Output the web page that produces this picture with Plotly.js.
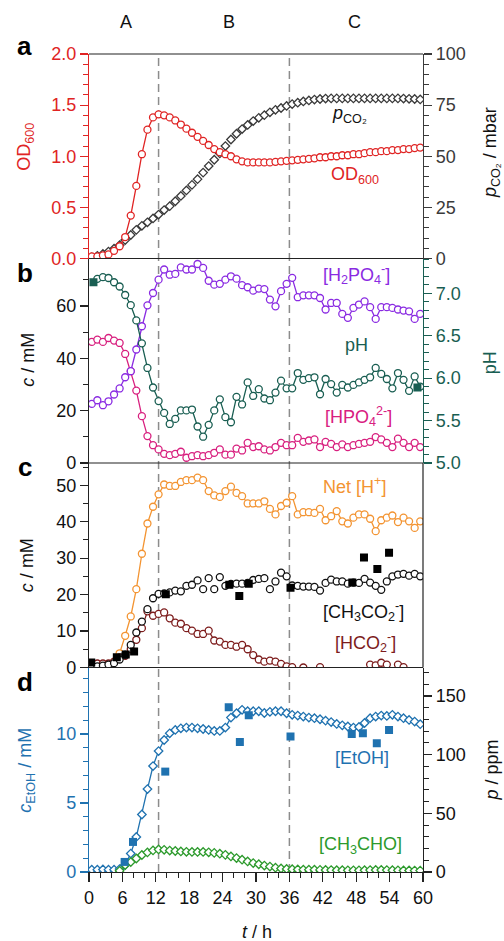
<!DOCTYPE html>
<html>
<head>
<meta charset="utf-8">
<script src="https://cdn.plot.ly/plotly-3.0.1.min.js"></script>
<style>html,body{margin:0;padding:0;background:#fff;}#chart{width:504px;height:941px;}</style>
</head>
<body>
<div id="chart"></div>
<script>
// time points (h)
const tHour = [0.5,1.5,2.5,3.5,4.5,5.5,6.5,7.5,8.5,9.5,
  10.5,11.5,12.5,13.5,14.5,15.5,16.5,17.5,18.5,19.5,
  20.5,21.5,22.5,23.5,24.5,25.5,26.5,27.5,28.5,29.5,
  30.5,31.5,32.5,33.5,34.5,35.5,36.5,37.5,38.5,39.5,
  40.5,41.5,42.5,43.5,44.5,45.5,46.5,47.5,48.5,49.5,
  50.5,51.5,52.5,53.5,54.5,55.5,56.5,57.5,58.5,59.5];

// panel a
const od600 = [0.02,0.02,0.03,0.04,0.075,0.12,0.21,0.42,0.71,1.02,
  1.26,1.38,1.41,1.40,1.38,1.35,1.31,1.27,1.23,1.19,
  1.15,1.11,1.07,1.04,1.02,1.00,0.97,0.95,0.94,0.94,
  0.94,0.94,0.94,0.945,0.95,0.955,0.96,0.965,0.97,0.975,
  0.98,0.99,0.99,1.00,1.00,1.01,1.01,1.02,1.02,1.03,
  1.04,1.04,1.05,1.05,1.06,1.06,1.07,1.07,1.08,1.085];
const pCO2 = [0.5,1.3,2.2,3.4,4.8,6.5,9.0,11.5,14,16,
  17.7,19.6,21.5,23.7,25.6,28,30.6,33.3,36,38.8,
  42,45.2,48.3,51.4,55,58.2,61,63.3,65.3,67.2,
  68.8,70.1,71.5,72.7,73.6,74.6,75.5,76.2,76.8,77.3,
  77.7,78,78.2,78.3,78.3,78.3,78.3,78.3,78.3,78.3,
  78.3,78.3,78.3,78.3,78.3,78.3,78.2,78.1,78,77.8];

// panel b
const h2po4 = [22.6,24,22.1,23.6,26.2,28.5,32.8,35.1,43.4,52.3,
  60.3,65,70.1,74,72,72.3,74.8,74,74,76.1,
  74.6,69.7,68.2,68.5,70.1,71.4,70.5,68,67.2,65.9,
  66.7,66.5,62.5,59.9,65.7,68.5,70.8,63.4,64.1,64.1,
  64.1,63.1,58.7,61.2,61.2,57,55.5,59.3,60.6,61.8,
  59.6,55.1,59.6,59.6,59.3,58.7,58.3,58,55.1,57];
const hpo4 = [46.3,47.2,46.3,47.8,46.8,45.9,41.7,35.1,27.7,17.9,
  10.3,6.8,5.2,3.5,3.0,3.5,4.3,2.0,2.6,3.0,
  2.6,3.0,3.9,5.2,3.2,3.2,5.5,4.8,7.7,6.1,
  6.4,5.2,4.8,6.1,7.7,6.8,6.8,9.6,8.1,8.6,
  9.0,6.1,8.1,7.3,6.1,7.1,6.1,6.8,7.3,7.7,
  8.1,9.9,9.0,7.7,6.1,9.3,7.7,6.1,7.7,6.1];
const pH = [null,7.17,7.19,7.18,7.13,7.08,6.98,6.86,6.68,6.41,
  6.12,5.89,5.73,5.59,5.46,5.52,5.62,5.62,5.63,5.43,
  5.31,5.45,5.62,5.75,5.54,5.48,5.78,5.69,5.95,5.79,
  5.87,5.76,5.74,5.83,5.97,5.88,5.88,6.06,5.98,6.00,
  6.01,5.81,5.99,5.93,5.83,5.92,5.89,5.92,5.95,5.98,
  6.01,6.12,6.05,5.99,5.88,6.06,5.98,5.85,6.02,5.90];
const pHMeasT = [0.8, 59.0];
const pHMeas = [7.13, 5.89];

// panel c
const netH = [0.3,0.4,0.5,0.8,1.5,3.9,8.7,14.0,21.5,31.2,
  39.5,44.1,47.5,50.2,49.8,49.8,50.9,51.4,51.4,52.1,
  51.4,48.4,47.2,46.8,48.4,49.6,47.9,47.0,45.0,45.0,
  45.0,45.6,43.5,42.0,44.3,45.2,47.0,42.0,42.6,42.6,
  42.4,43.5,40.4,41.5,42.9,40.1,39.5,41.1,42.0,42.0,
  40.8,37.4,40.4,41.1,41.7,39.9,41.1,40.1,38.3,40.1];
const acetate = [0.3,0.3,0.5,0.8,1.2,2.2,3.5,6.2,9.6,12.6,
  16.0,19.0,20.2,20.3,20.6,21.1,20.9,22.4,22.7,23.9,
  21.5,24.5,21.5,24.8,22.4,22.9,23.0,23.0,23.2,24.0,
  24.3,24.5,21.5,23.6,26.0,25.0,22.5,22.4,22.2,22.2,
  22.1,21.1,23.2,24.1,23.6,23.6,23.0,23.3,23.2,24.3,
  23.3,22.4,21.3,23.6,25.0,25.5,25.7,25.2,25.7,25.0];
const acetateMeasT = [0.4,5.0,6.6,8.1,13.8,25.2,27.0,28.7,36.2,47.3,49.4,51.8,53.9];
const acetateMeas = [1.4,2.8,3.6,4.4,20.1,22.7,19.6,23.0,21.9,23.3,30.2,27.0,31.5];
const formate = [1.0,1.1,1.1,1.1,1.6,2.8,3.2,5.0,7.6,10.8,
  15.4,14.2,14.7,15.1,13.5,12.3,12.0,10.8,10.1,9.2,
  9.2,10.1,7.4,7.1,6.2,6.2,5.7,6.2,5.0,3.4,
  2.2,1.6,1.9,1.6,1.0,0.3,0.1,null,0.0,null,
  null,0.1,null,null,null,null,null,null,null,null,
  0.8,0.6,1.3,0.8,null,0.8,0.1,null,null,null];

// panel d
const etohGas = [2,2,2.2,2,2,2.5,6,15.7,29.9,49,
  70.7,90.3,103.1,112.5,118.2,121.1,122.5,123.1,123.1,122.5,
  121.9,121.1,120.2,120.2,123.1,131.6,135.3,138.2,137,137,
  137,135.5,136.5,137,137,135.3,134,133.3,132.5,131.6,
  131.1,130.2,129,127.8,126.2,125,124,123.1,123.6,127,
  131.1,132.5,133.3,133,134,132.5,131.1,129.6,128.2,126];
const acetaldehyde = [null,null,null,null,null,1.0,5.9,8.5,11.5,14.5,
  16.7,18.4,19.2,18.9,18.3,17.9,17.5,17.2,17.1,17.1,
  17.1,16.8,16.3,15.6,14.6,13.3,11.9,10.5,9.0,7.6,
  6.6,5.5,4.6,3.7,3.0,2.6,2.4,2.2,2.0,2.0,
  1.9,1.8,1.7,1.6,1.5,1.5,1.4,1.4,1.4,1.5,
  1.6,1.7,1.7,1.6,1.5,1.4,1.3,1.3,1.2,1.2];
const etohMeasT = [6.4,7.9,13.7,25.1,27.1,28.7,36.2,47.2,49.2,51.7,53.9];
const etohMeas = [0.73,2.18,7.28,11.94,9.42,11.36,9.83,10.0,10.07,9.34,10.3];

// x ticks and phase boundaries
const xTicks = [0,6,12,18,24,30,36,42,48,54,60];
const phaseBounds = [12.5, 36];
const phaseLabels = ['A','B','C'];
const phaseLabelX = [6.6, 25.1, 47.7];

const RED = '#e02424', PURPLE = '#8a2be2', TEAL = '#195e52', MAG = '#d8207f',
      ORANGE = '#f39432', BROWN = '#7d1c1c', BLUE = '#1f72b0', GREEN = '#2c9a2c', GRAY = '#3a3a3a';
const FONT = 'Arial, "Liberation Sans", sans-serif';

function openMk(color, sym, size) {
  return {symbol: sym, size: size, color: 'white', line: {color: color, width: 1.3}};
}
const traces = [
  // panel a
  {x: tHour, y: pCO2, xaxis: 'x', yaxis: 'y', mode: 'markers', marker: openMk(GRAY, 'diamond', 6.5)},
  {x: tHour, y: od600, xaxis: 'x', yaxis: 'y2', mode: 'lines+markers', line: {color: RED, width: 1.3}, marker: openMk(RED, 'circle', 7)},
  // panel b
  {x: tHour, y: hpo4, xaxis: 'x', yaxis: 'y3', mode: 'lines+markers', line: {color: MAG, width: 1.3}, marker: openMk(MAG, 'circle', 7)},
  {x: tHour, y: h2po4, xaxis: 'x', yaxis: 'y3', mode: 'lines+markers', line: {color: PURPLE, width: 1.3}, marker: openMk(PURPLE, 'circle', 7)},
  {x: tHour, y: pH, xaxis: 'x', yaxis: 'y4', mode: 'lines+markers', line: {color: TEAL, width: 1.3}, marker: openMk(TEAL, 'circle', 7)},
  {x: pHMeasT, y: pHMeas, xaxis: 'x', yaxis: 'y4', mode: 'markers', marker: {symbol: 'square', size: 8, color: TEAL}},
  // panel c
  {x: tHour, y: netH, xaxis: 'x', yaxis: 'y5', mode: 'lines+markers', line: {color: ORANGE, width: 1.3}, marker: openMk(ORANGE, 'circle', 7)},
  {x: tHour, y: formate, xaxis: 'x', yaxis: 'y5', mode: 'lines+markers', line: {color: BROWN, width: 1.3}, marker: openMk(BROWN, 'circle', 7)},
  {x: tHour, y: acetate, xaxis: 'x', yaxis: 'y5', mode: 'markers', marker: openMk('#111', 'circle', 7)},
  {x: acetateMeasT, y: acetateMeas, xaxis: 'x', yaxis: 'y5', mode: 'markers', marker: {symbol: 'square', size: 8, color: '#000'}},
  // panel d
  {x: tHour, y: etohGas, xaxis: 'x', yaxis: 'y6', mode: 'lines+markers', line: {color: BLUE, width: 1.3}, marker: openMk(BLUE, 'diamond', 6.5)},
  {x: tHour, y: acetaldehyde, xaxis: 'x', yaxis: 'y6', mode: 'lines+markers', line: {color: GREEN, width: 1.3}, marker: openMk(GREEN, 'diamond', 6.5)},
  {x: etohMeasT, y: etohMeas, xaxis: 'x', yaxis: 'y7', mode: 'markers', marker: {symbol: 'square', size: 8, color: BLUE}}
];

function yax(opts, color) {
  const base = {
    showline: true, linecolor: color, linewidth: 1.2, ticks: 'outside', ticklen: 8, tickwidth: 1.2,
    tickcolor: color, tickfont: {family: FONT, size: 18, color: color}, showgrid: false, zeroline: false,
    fixedrange: true, automargin: false,
    minor: {ticks: 'outside', ticklen: 5, tickwidth: 1, tickcolor: color, showgrid: false}
  };
  const o = Object.assign(base, opts);
  if (opts.minorDtick) { o.minor.dtick = opts.minorDtick; delete o.minorDtick; }
  return o;
}

const shapes = [];
phaseBounds.forEach(b => shapes.push({type: 'line', xref: 'x', yref: 'paper', x0: b, x1: b, y0: 0, y1: 1,
  line: {color: '#8c8c8c', width: 1.5, dash: '8px,5px'}, layer: 'below'}));
[1, 0.75, 0.5, 0.25].forEach(y => shapes.push({type: 'line', xref: 'paper', yref: 'paper', x0: 0, x1: 1, y0: y, y1: y,
  line: {color: '#222', width: 1.2}, layer: 'above'}));
shapes.push({type: 'line', xref: 'paper', yref: 'paper', x0: 1, x1: 1, y0: 0.25, y1: 0.5, line: {color: '#222', width: 1.2}, layer: 'above'});

function ann(text, x, y, color, opts) {
  return Object.assign({text: text, x: x, y: y, xref: 'x', yref: 'paper', showarrow: false,
    xanchor: 'center', yanchor: 'middle', font: {family: FONT, size: 18, color: color}}, opts || {});
}
const annotations = [];
phaseLabels.forEach((s, i) => annotations.push(ann(s, phaseLabelX[i], 1.039, '#111')));
[['a', 1.010], ['b', 0.732], ['c', 0.495], ['d', 0.232]].forEach(p => annotations.push(
  {text: '<b>' + p[0] + '</b>', x: -0.193, y: p[1], xref: 'paper', yref: 'paper', showarrow: false,
   xanchor: 'center', yanchor: 'middle', font: {family: FONT, size: 26, color: '#000'}}));
// curve labels
annotations.push(ann('<i>p</i><sub>CO₂</sub>', 46.8, 0.926, '#111'));
annotations.push(ann('OD<sub>600</sub>', 47.7, 0.852, RED));
annotations.push(ann('[H<sub>2</sub>PO<sub>4</sub><sup>-</sup>]', 48.1, 0.730, PURPLE));
annotations.push(ann('pH', 48.1, 0.644, TEAL));
annotations.push(ann('[HPO<sub>4</sub><sup>2-</sup>]', 48.5, 0.557, MAG));
annotations.push(ann('Net [H<sup>+</sup>]', 47.7, 0.472, ORANGE));
annotations.push(ann('[CH<sub>3</sub>CO<sub>2</sub><sup>-</sup>]', 49.4, 0.318, '#111'));
annotations.push(ann('[HCO<sub>2</sub><sup>-</sup>]', 49.7, 0.281, BROWN));
annotations.push(ann('[EtOH]', 49.0, 0.139, BLUE));
annotations.push(ann('[CH<sub>3</sub>CHO]', 48.8, 0.032, GREEN));
// axis titles
function atitle(text, x, y, color) {
  return {text: text, x: x, y: y, xref: 'paper', yref: 'paper', showarrow: false, textangle: -90,
    xanchor: 'center', yanchor: 'middle', font: {family: FONT, size: 18, color: color}};
}
annotations.push(atitle('OD<sub>600</sub>', -0.19, 0.886, RED));
annotations.push(atitle('<i>p</i><sub>CO₂</sub> / mbar', 1.207, 0.879, '#111'));
annotations.push(atitle('<i>c</i> / mM', -0.183, 0.626, '#111'));
annotations.push(atitle('pH', 1.203, 0.623, TEAL));
annotations.push(atitle('<i>c</i> / mM', -0.186, 0.375, '#111'));
annotations.push(atitle('<i>c</i><sub>EtOH</sub> / mM', -0.186, 0.125, BLUE));
annotations.push(atitle('<i>p</i> / ppm', 1.206, 0.125, '#111'));
annotations.push({text: '<i>t</i> / h', x: 0.502, y: -0.073, xref: 'paper', yref: 'paper', showarrow: false,
  xanchor: 'center', yanchor: 'middle', font: {family: FONT, size: 18, color: '#111'}});

const layout = {
  width: 504, height: 941,
  margin: {l: 89, r: 81, t: 54, b: 69, pad: 0},
  paper_bgcolor: '#fff', plot_bgcolor: 'rgba(0,0,0,0)',
  showlegend: false,
  font: {family: FONT, size: 18, color: '#111'},
  xaxis: {domain: [0, 1], range: [0, 60], anchor: 'y6', tickvals: xTicks, showline: true, linecolor: '#222',
    linewidth: 1.2, ticks: 'outside', ticklen: 9, tickwidth: 1.2, tickcolor: '#222',
    tickfont: {family: FONT, size: 18, color: '#111'}, showgrid: false, zeroline: false, fixedrange: true,
    minor: {dtick: 2, ticks: 'outside', ticklen: 5, tickwidth: 1, tickcolor: '#222', showgrid: false}},
  yaxis: yax({domain: [0.75, 1], range: [0, 100], anchor: 'x', side: 'right', dtick: 25, minorDtick: 5}, GRAY),
  yaxis2: yax({overlaying: 'y', range: [0, 2], anchor: 'x', side: 'left', dtick: 0.5, tickformat: '.1f', minorDtick: 0.1}, RED),
  yaxis3: yax({domain: [0.5, 0.75], range: [0, 78.2], anchor: 'x', side: 'left', dtick: 20, minorDtick: 10}, '#222'),
  yaxis4: yax({overlaying: 'y3', range: [5, 7.41], anchor: 'x', side: 'right', dtick: 0.5, tickformat: '.1f', minorDtick: 0.1}, TEAL),
  yaxis5: yax({domain: [0.25, 0.5], range: [0, 56.1], anchor: 'x', side: 'left', dtick: 10, minorDtick: 5}, '#222'),
  yaxis6: yax({domain: [0, 0.25], range: [0, 174.3], anchor: 'x', side: 'right', dtick: 50, minorDtick: 10}, '#222'),
  yaxis7: yax({overlaying: 'y6', range: [0, 14.83], anchor: 'x', side: 'left', dtick: 5, minorDtick: 1}, BLUE),
  shapes: shapes,
  annotations: annotations
};
layout.yaxis3.tickfont.color = '#111';
layout.yaxis5.tickfont.color = '#111';
layout.yaxis6.tickfont.color = '#111';

Plotly.newPlot('chart', traces, layout, {staticPlot: true, displayModeBar: false});
</script>
</body>
</html>
